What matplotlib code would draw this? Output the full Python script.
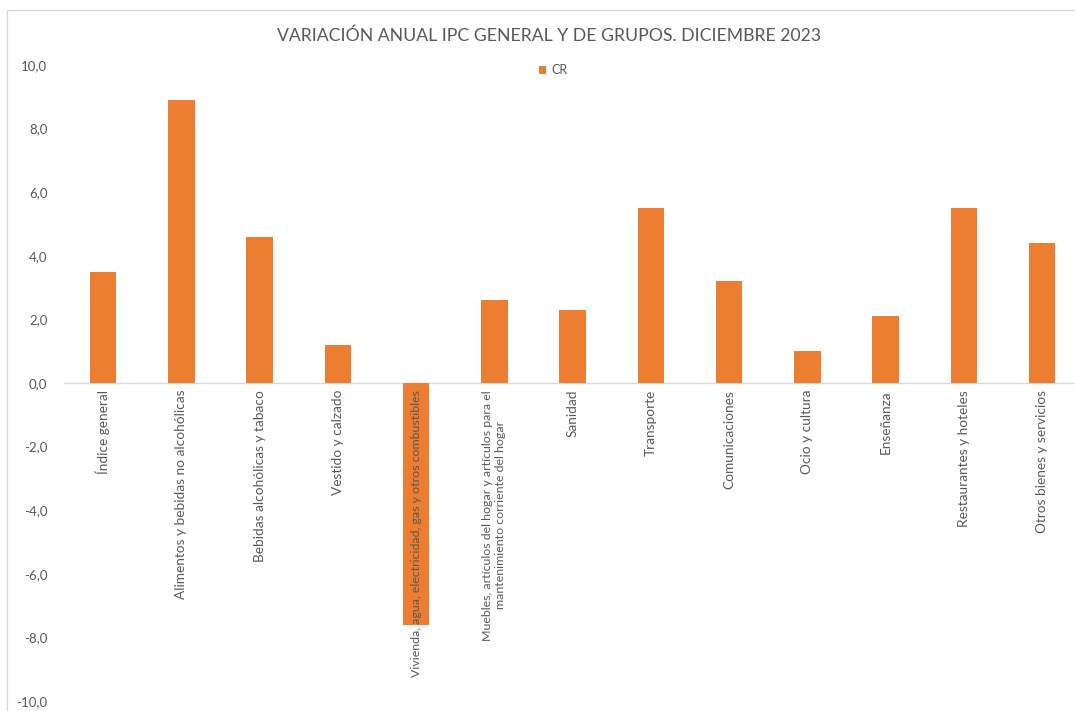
import matplotlib.pyplot as plt
from matplotlib.patches import Rectangle

categories = [
    'Índice general',
    'Alimentos y bebidas no alcohólicas',
    'Bebidas alcohólicas y tabaco',
    'Vestido y calzado',
    'Vivienda, agua, electricidad, gas y otros combustibles',
    'Muebles, artículos del hogar y artículos para el\nmantenimiento corriente del hogar',
    'Sanidad',
    'Transporte',
    'Comunicaciones',
    'Ocio y cultura',
    'Enseñanza',
    'Restaurantes y hoteles',
    'Otros bienes y servicios',
]
values = [3.5, 8.9, 4.6, 1.2, -7.6, 2.6, 2.3, 5.5, 3.2, 1.0, 2.1, 5.5, 4.4]
series_name = 'CR'
y_ticks = [-10, -8, -6, -4, -2, 0, 2, 4, 6, 8, 10]

plt.rcParams['font.family'] = ['Lato', 'DejaVu Sans']
text_color = '#595959'
bar_color = '#ED7D31'

W, H = 1075, 711
fig = plt.figure(figsize=(W / 100, H / 100), dpi=100)

# chart border
fig.patches.append(Rectangle((7 / W, -0.1), 1.2, (H - 10) / H + 0.1,
                             transform=fig.transFigure, fill=False,
                             edgecolor='#d9d9d9', linewidth=1))

ax = fig.add_axes([64 / W, 10 / H, 1 - 64 / W, (701 - 65) / H])
x = list(range(len(categories)))
ax.bar(x, values, width=0.34, color=bar_color, label=series_name, zorder=2)
ax.axhline(0, color='#d9d9d9', linewidth=1, zorder=1)

ax.set_ylim(-10, 10)
ax.set_xlim(-0.5, -0.5 + (W - 64) / 78.25)
ax.set_yticks(y_ticks)
ax.set_yticklabels([f'{v:.1f}'.replace('.', ',') for v in y_ticks])
ax.tick_params(axis='y', length=0, pad=12, labelsize=9.5, labelcolor=text_color)
ax.set_xticks([])
for s in ax.spines.values():
    s.set_visible(False)

# long labels are drawn a little tighter in the original
for xi, lab in zip(x, categories):
    fs = 8.9 if len(lab) > 45 else 9.8
    ax.text(xi, -0.22, lab, rotation=90, ha='center', va='top',
            multialignment='center', fontsize=fs, color=text_color, zorder=3)

fig.text(549 / W, 1 - 36 / H, 'VARIACIÓN ANUAL IPC GENERAL Y DE GRUPOS. DICIEMBRE 2023',
         ha='center', va='center', fontsize=12.7, color=text_color)

leg = ax.legend(loc='center', bbox_to_anchor=(553 / W, 1 - 70 / H),
                bbox_transform=fig.transFigure, frameon=False, fontsize=9,
                handlelength=0.6, handleheight=0.6, handletextpad=0.4,
                labelcolor=text_color)

fig.savefig('out.png', dpi=100)
